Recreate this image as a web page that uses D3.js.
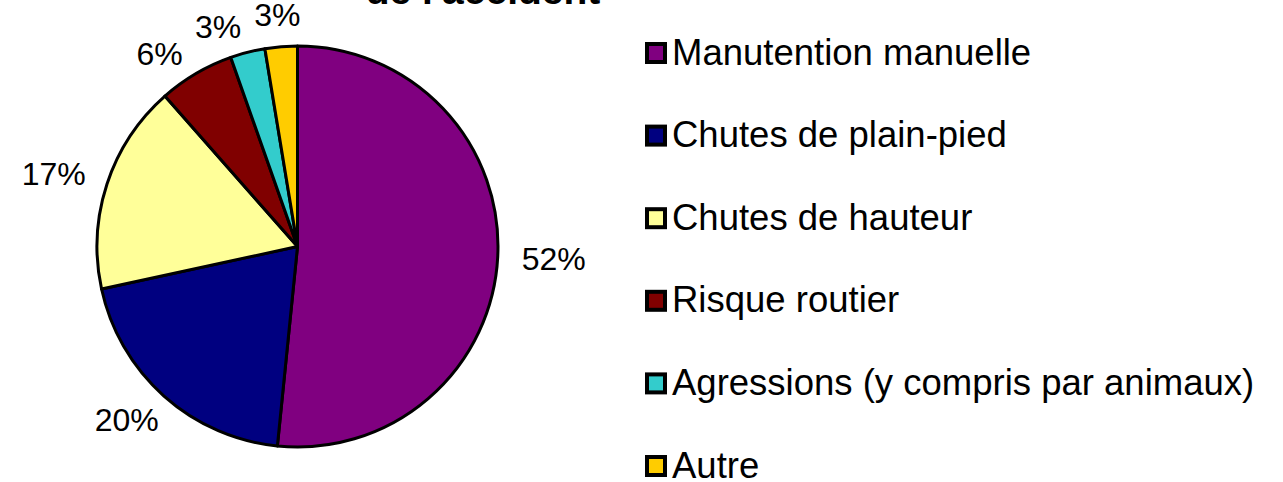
<!DOCTYPE html>
<html>
<head>
<meta charset="utf-8">
<script src="https://cdn.jsdelivr.net/npm/d3@7"></script>
<style>
  body { margin: 0; background: #fff; }
  svg { display: block; font-family: 'Liberation Sans', Arial, sans-serif; }
</style>
</head>
<body>
<div id="chart"></div>
<script>
'use strict';

// data (percent of accidents)
const categories = [
  'Manutention manuelle',
  'Chutes de plain-pied',
  'Chutes de hauteur',
  'Risque routier',
  'Agressions (y compris par animaux)',
  'Autre'
]
const shares = [51.6, 20.0, 16.9, 6.1, 2.8, 2.6]
const colors = ['#800080', '#000080', '#ffff99', '#800000', '#33cccc', '#ffcc00']
const title_line = "de l'accident"

const dims = {
  width: 1283,
  height: 482,
  cx: 297.5,
  cy: 246.5,
  radius: 200.5,
  label_gap: 24,
  legend_x: 647,
  legend_y: 53,
  legend_step: 82.6
}

const svg = d3.select('#chart')
  .append('svg')
  .attr('width', dims.width)
  .attr('height', dims.height)

// title, only its last line is inside the frame
svg.append('text')
  .attr('x', 483)
  .attr('y', 4)
  .attr('text-anchor', 'middle')
  .style('font-size', '39px')
  .style('font-weight', 'bold')
  .style('fill', '#000')
  .text(title_line)

const data = categories.map((c, i) => ({ name: c, value: shares[i], color: colors[i] }))
const total = d3.sum(shares)

const pie = d3.pie()
  .value(d => d.value)
  .sort(null)
const arcs = pie(data)

const arc = d3.arc()
  .innerRadius(0)
  .outerRadius(dims.radius)

const pie_g = svg.append('g')
  .attr('transform', `translate(${dims.cx}, ${dims.cy})`)

pie_g.selectAll('path')
  .data(arcs)
  .join('path')
  .attr('d', arc)
  .attr('fill', d => d.data.color)
  .attr('stroke', '#000')
  .attr('stroke-width', 3)
  .attr('stroke-linejoin', 'round')

// percentage labels, outside end
const labels = pie_g.selectAll('text.pct')
  .data(arcs)
  .join('text')
  .attr('class', 'pct')
  .attr('text-anchor', 'middle')
  .attr('dy', '0.36em')
  .style('font-size', '32px')
  .style('fill', '#000')
  .text(d => Math.round(d.data.value / total * 100) + '%')

const half_h = 13
const label_pos = function(angle, hw){
  const dx = Math.sin(angle)
  const dy = -Math.cos(angle)
  const d = dims.radius + dims.label_gap
  return [dx * d + hw * dx, dy * d + 8 * dy]
}

const info = arcs.map((a, i) => {
  const hw = labels.nodes()[i].getComputedTextLength() / 2
  const angle = (a.startAngle + a.endAngle) / 2
  return { hw: hw, angle: angle, pos: label_pos(angle, hw) }
})

const overlaps = function(a, b){
  return Math.abs(a.pos[0] - b.pos[0]) < a.hw + b.hw + 12 &&
    Math.abs(a.pos[1] - b.pos[1]) < 2 * half_h + 4
}

// push crowded labels back counter-clockwise
for(let i = info.length - 2; i >= 0; i--){
  let n = 0
  while(overlaps(info[i], info[i + 1]) && n < 400){
    info[i].angle -= 0.005
    info[i].pos = label_pos(info[i].angle, info[i].hw)
    n++
  }
}

labels
  .attr('x', (d, i) => info[i].pos[0])
  .attr('y', (d, i) => info[i].pos[1])

// legend
const legend = svg.append('g')
  .selectAll('g')
  .data(data)
  .join('g')
  .attr('transform', (d, i) => `translate(${dims.legend_x}, ${dims.legend_y + i * dims.legend_step})`)

legend.append('rect')
  .attr('x', 0)
  .attr('y', -9)
  .attr('width', 18)
  .attr('height', 18)
  .attr('fill', d => d.color)
  .attr('stroke', '#000')
  .attr('stroke-width', 4)

legend.append('text')
  .attr('x', 25)
  .attr('y', 11.5)
  .style('font-size', '36.5px')
  .style('fill', '#000')
  .text(d => d.name)
</script>
</body>
</html>
